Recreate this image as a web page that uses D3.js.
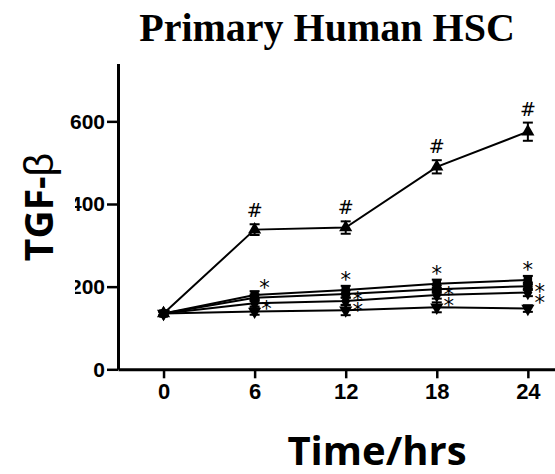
<!DOCTYPE html>
<html>
<head>
<meta charset="utf-8">
<script src="https://cdn.jsdelivr.net/npm/d3@7"></script>
<style>
  html, body { margin: 0; padding: 0; background: #fff; }
  svg { display: block; }
</style>
</head>
<body>
<script>
// data
var hours = [0, 6, 12, 18, 24];
var xTicks = [0, 6, 12, 18, 24];
var yTicks = [0, 200, 400, 600];

var triUp = [135, 338, 343, 490, 575];
var triUpErr = [5, 13, 15, 16, 22];
var square = [135, 180, 192, 207, 216];
var squareErr = [5, 9, 10, 10, 10];
var circle = [135, 173, 182, 194, 201];
var circleErr = [5, 8, 9, 9, 9];
var diamond = [135, 160, 165, 180, 186];
var diamondErr = [5, 8, 9, 9, 9];
var triDown = [135, 140, 143, 150, 147];
var triDownErr = [5, 8, 12, 12, 8];

var series = [
  { name: "triUp", values: triUp, err: triUpErr, symbol: d3.symbolTriangle, size: 75, rotate: 0 },
  { name: "square", values: square, err: squareErr, symbol: d3.symbolSquare, size: 72, rotate: 0 },
  { name: "circle", values: circle, err: circleErr, symbol: d3.symbolCircle, size: 72, rotate: 0 },
  { name: "diamond", values: diamond, err: diamondErr, symbol: d3.symbolDiamond, size: 70, rotate: 0 },
  { name: "triDown", values: triDown, err: triDownErr, symbol: d3.symbolTriangle, size: 75, rotate: 180 }
];

// significance marks: series index, time, where
var hashMarks = [
  { s: 0, t: 6 }, { s: 0, t: 12 }, { s: 0, t: 18 }, { s: 0, t: 24 }
];
var starMarks = [
  { s: 1, t: 6, pos: "topright" }, { s: 3, t: 6, pos: "right" },
  { s: 1, t: 12, pos: "top" }, { s: 2, t: 12, pos: "right" }, { s: 3, t: 12, pos: "right" },
  { s: 1, t: 18, pos: "top" }, { s: 2, t: 18, pos: "right" }, { s: 3, t: 18, pos: "right" },
  { s: 1, t: 24, pos: "top" }, { s: 2, t: 24, pos: "right" }, { s: 3, t: 24, pos: "right" }
];

var W = 555, H = 474;
var svg = d3.select("body").append("svg")
  .attr("width", W)
  .attr("height", H);

var x = d3.scaleLinear().domain([-3, 27]).range([118, 573.4]);
var y = d3.scaleLinear().domain([0, 740]).range([369.3, 63.5]);

// title
svg.append("text")
  .attr("x", 327)
  .attr("y", 41)
  .attr("text-anchor", "middle")
  .attr("font-family", "Liberation Serif, Times New Roman, serif")
  .attr("font-weight", "bold")
  .attr("font-size", "40px")
  .text("Primary Human HSC");

// axes
var xAxis = svg.append("g")
  .attr("transform", "translate(0," + y(0) + ")")
  .call(d3.axisBottom(x).tickValues(xTicks).tickSize(9).tickPadding(5).tickSizeOuter(0));
xAxis.select(".domain").attr("stroke-width", 3);
xAxis.selectAll(".tick line").attr("stroke-width", 2.5);
xAxis.selectAll(".tick text")
  .attr("font-family", "Liberation Sans, Arial, sans-serif")
  .attr("font-weight", "bold")
  .attr("font-size", "22px")
  .attr("fill", "#000");

var yAxis = svg.append("g")
  .attr("transform", "translate(" + x(-3) + ",0)")
  .call(d3.axisLeft(y).tickValues(yTicks).tickSize(11).tickPadding(2).tickSizeOuter(0));
yAxis.select(".domain").attr("stroke-width", 3);
yAxis.selectAll(".tick line").attr("stroke-width", 2.5);
yAxis.selectAll(".tick text")
  .attr("font-family", "Liberation Sans, Arial, sans-serif")
  .attr("font-weight", "bold")
  .attr("font-size", "21px")
  .attr("fill", "#000");

// y label, with white box that clips the tick labels a bit
svg.append("rect")
  .attr("x", 0).attr("y", 165)
  .attr("width", 75).attr("height", 140)
  .attr("fill", "#fff");
var ylab = svg.append("text")
  .attr("transform", "translate(53,207) rotate(-90)")
  .attr("text-anchor", "middle")
  .attr("font-family", "Open Sans, sans-serif")
  .attr("font-weight", "bold")
  .attr("font-size", "39px");
ylab.append("tspan").text("TGF-");
ylab.append("tspan")
  .attr("font-family", "Liberation Sans, sans-serif")
  .attr("font-weight", "normal")
  .attr("font-size", "41px")
  .text("β");

// x label
svg.append("text")
  .attr("x", 377)
  .attr("y", 465)
  .attr("text-anchor", "middle")
  .attr("font-family", "Open Sans, sans-serif")
  .attr("font-weight", "bold")
  .attr("font-size", "40px")
  .text("Time/hrs");

// lines
var line = d3.line()
  .x(function (d, i) { return x(hours[i]); })
  .y(function (d) { return y(d); });

svg.selectAll("path.series")
  .data(series)
  .enter()
  .append("path")
  .attr("class", "series")
  .attr("d", function (d) { return line(d.values); })
  .attr("fill", "none")
  .attr("stroke", "#000")
  .attr("stroke-width", 2);

// error bars
series.forEach(function (s) {
  var g = svg.append("g");
  hours.forEach(function (h, i) {
    var cx = x(h);
    var top = y(s.values[i] + s.err[i]);
    var bot = y(s.values[i] - s.err[i]);
    g.append("line").attr("x1", cx).attr("x2", cx).attr("y1", top).attr("y2", bot)
      .attr("stroke", "#000").attr("stroke-width", 2);
    [top, bot].forEach(function (yy) {
      g.append("line").attr("x1", cx - 5).attr("x2", cx + 5).attr("y1", yy).attr("y2", yy)
        .attr("stroke", "#000").attr("stroke-width", 2);
    });
  });
});

// markers
series.forEach(function (s) {
  svg.selectAll(null)
    .data(s.values)
    .enter()
    .append("path")
    .attr("d", d3.symbol().type(s.symbol).size(s.size))
    .attr("transform", function (d, i) {
      return "translate(" + x(hours[i]) + "," + y(d) + ") rotate(" + s.rotate + ")";
    })
    .attr("fill", "#000");
});

// # marks
svg.selectAll("text.hash")
  .data(hashMarks)
  .enter()
  .append("text")
  .attr("class", "hash")
  .attr("x", function (d) { return x(d.t); })
  .attr("y", function (d) {
    var i = hours.indexOf(d.t);
    return y(series[d.s].values[i] + series[d.s].err[i]) - 7;
  })
  .attr("text-anchor", "middle")
  .attr("font-family", "DejaVu Sans, sans-serif")
  .attr("font-size", "19px")
  .text("#");

// * marks: centre of the star glyph, right-side stars kept apart
starMarks.forEach(function (d) {
  var i = hours.indexOf(d.t);
  var v = series[d.s].values[i];
  if (d.pos === "top") { d.cx = x(d.t); d.cy = y(v + series[d.s].err[i]) - 11; }
  else if (d.pos === "topright") { d.cx = x(d.t) + 10; d.cy = y(v) - 12; }
  else { d.cx = x(d.t) + 12; d.cy = y(v) + 1; }
});
hours.forEach(function (h) {
  var right = starMarks.filter(function (d) { return d.t === h && d.pos === "right"; })
    .sort(function (a, b) { return a.cy - b.cy; });
  for (var k = 1; k < right.length; k++) {
    if (right[k].cy - right[k - 1].cy < 11) right[k].cy = right[k - 1].cy + 11;
  }
});
svg.selectAll("text.star")
  .data(starMarks)
  .enter()
  .append("text")
  .attr("class", "star")
  .attr("x", function (d) { return d.cx; })
  .attr("y", function (d) { return d.cy + 12; })
  .attr("text-anchor", "middle")
  .attr("font-family", "DejaVu Sans, sans-serif")
  .attr("font-size", "21px")
  .text("*");
</script>
</body>
</html>
